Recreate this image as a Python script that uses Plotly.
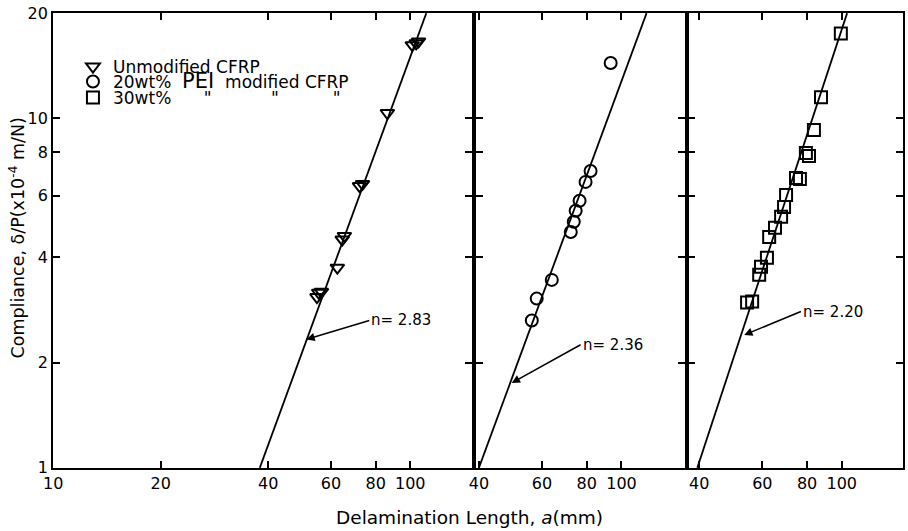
import numpy as np
import plotly.graph_objects as go

# ---------------- data ----------------
# Panel 1: Unmodified CFRP
a_unmod = [54.8, 55.4, 56.4, 62.5, 64.5, 65.4, 72.1, 73.5, 86.3, 101.3, 103.9, 105.5]
c_unmod = [3.08, 3.17, 3.19, 3.74, 4.50, 4.61, 6.40, 6.49, 10.36, 16.2, 16.4, 16.6]

# Panel 2: 20wt% PEI modified CFRP
a_pei20 = [56.2, 58.0, 63.9, 72.2, 73.6, 74.5, 76.4, 79.4, 82.0, 93.3]
c_pei20 = [2.64, 3.05, 3.45, 4.73, 5.06, 5.44, 5.81, 6.58, 7.07, 14.4]

# Panel 3: 30wt% PEI modified CFRP
a_pei30 = [54.4, 56.2, 58.8, 59.5, 61.8, 62.7, 65.1, 67.7, 69.0, 69.9,
           74.5, 76.4, 79.4, 81.0, 83.6, 87.5, 99.4]
c_pei30 = [2.97, 2.99, 3.57, 3.76, 3.99, 4.58, 4.86, 5.23, 5.58, 6.04,
           6.75, 6.71, 7.96, 7.80, 9.26, 11.5, 17.5]

# drawn fit lines: length where compliance = 1, and slope on log-log axes
fit_a0 = [37.9, 40.0, 39.5]
fit_slope = [2.79, 2.78, 3.11]
fit_labels = ["n= 2.83", "n= 2.36", "n= 2.20"]
# label arrow: (tail a, tail C) -> (head a, head C)
arrow_tail = [(76.8, 2.64), (76.9, 2.25), (76.9, 2.80)]
arrow_head = [(51.2, 2.33), (49.4, 1.75), (53.4, 2.40)]

NB = "\u00a0"
legend_names = [
    "Unmodified CFRP",
    "20wt%" + NB * 2 + "<span style='font-size:21px'>PEI</span>" + NB * 2 + "modified CFRP",
    "30wt%" + NB * 6 + "\"" + NB * 11 + "\"" + NB * 10 + "\"",
]
symbols = ["triangle-down-open", "circle-open", "square-open"]

y_ticks = [1, 2, 4, 6, 8, 10, 20]
x_ticks_1 = [10, 20, 40, 60, 80, 100]
x_ticks_23 = [40, 60, 80, 100]

# ---------------- figure ----------------
FONT = "DejaVu Sans"
fig = go.Figure()

series = [(a_unmod, c_unmod), (a_pei20, c_pei20), (a_pei30, c_pei30)]
axis_ids = [("x", "y"), ("x2", "y2"), ("x3", "y3")]
legend_ids = ["legend", "legend2", "legend3"]

for i, ((a, c), (xa, ya)) in enumerate(zip(series, axis_ids)):
    a_top = fit_a0[i] * 20 ** (1 / fit_slope[i])
    aa = np.logspace(np.log10(fit_a0[i]), np.log10(a_top), 50)
    cc = (aa / fit_a0[i]) ** fit_slope[i]
    fig.add_trace(go.Scatter(x=aa, y=cc, mode="lines", xaxis=xa, yaxis=ya,
                             line=dict(color="black", width=1.8),
                             showlegend=False, hoverinfo="skip"))
    fig.add_trace(go.Scatter(x=a, y=c, mode="markers", xaxis=xa, yaxis=ya,
                             name=legend_names[i], legend=legend_ids[i],
                             marker=dict(symbol=symbols[i], size=12, color="black",
                                         line=dict(color="black", width=2))))

    tx, ty = arrow_tail[i]
    hx, hy = arrow_head[i]
    fig.add_annotation(x=np.log10(hx), y=np.log10(hy), ax=np.log10(tx), ay=np.log10(ty),
                       xref=xa, yref=ya, axref=xa, ayref=ya,
                       text=fit_labels[i], showarrow=True, arrowhead=2, arrowsize=1.1,
                       arrowwidth=1.5, arrowcolor="black", xanchor="left",
                       yanchor="middle",
                       font=dict(family=FONT, size=15, color="black"))

axis_common = dict(type="log", showgrid=False, zeroline=False, showline=True,
                   linecolor="black", linewidth=1.8, mirror="ticks", ticks="inside",
                   ticklen=7, tickwidth=1.8, tickcolor="black",
                   tickfont=dict(family=FONT, size=16, color="black"))

W = 852.0
H = 455.0


def ly(py):
    return 1 - (py - 13) / H


leg_common = dict(x=20 / W, xanchor="left", yanchor="middle",
                  bgcolor="rgba(0,0,0,0)", itemsizing="constant",
                  font=dict(family=FONT, size=17, color="black"))

fig.update_layout(
    width=908, height=531,
    margin=dict(l=53, r=3, t=13, b=63),
    paper_bgcolor="white", plot_bgcolor="white",
    showlegend=True,
    legend=dict(y=ly(67), **leg_common),
    legend2=dict(y=ly(82), **leg_common),
    legend3=dict(y=ly(98), **leg_common),
    xaxis=dict(domain=[0, 420 / W], range=[0.9995, 2.173],
               tickvals=x_ticks_1, ticktext=[str(v) for v in x_ticks_1], **axis_common),
    xaxis2=dict(domain=[424 / W, 633 / W], range=[1.594, 2.176], anchor="y2",
                tickvals=x_ticks_23, ticktext=[str(v) for v in x_ticks_23], **axis_common),
    xaxis3=dict(domain=[637 / W, 1.0], range=[1.572, 2.171], anchor="y3",
                tickvals=x_ticks_23, ticktext=[str(v) for v in x_ticks_23], **axis_common),
    yaxis=dict(range=[-0.0005, 1.3015], tickvals=y_ticks,
               ticktext=[str(v) for v in y_ticks], **axis_common),
    yaxis2=dict(range=[-0.0005, 1.3015], tickvals=y_ticks, showticklabels=False,
                anchor="x2", **axis_common),
    yaxis3=dict(range=[-0.0005, 1.3015], tickvals=y_ticks, showticklabels=False,
                anchor="x3", **axis_common),
)

fig.add_annotation(xref="paper", yref="paper", x=(470 - 53) / W, y=-0.109,
                   text="Delamination Length, <i>a</i>(mm)", showarrow=False,
                   yanchor="middle", font=dict(family=FONT, size=18.5, color="black"))
fig.add_annotation(xref="paper", yref="paper", x=-0.042, y=0.505,
                   text="Compliance, δ/P(x10<sup>-4</sup> m/N)", showarrow=False,
                   textangle=-90, xanchor="center", yanchor="middle",
                   font=dict(family=FONT, size=17.5, color="black"))

fig.write_html("out.html", config={"displayModeBar": False},
               post_script="document.body.style.margin='0px';")
